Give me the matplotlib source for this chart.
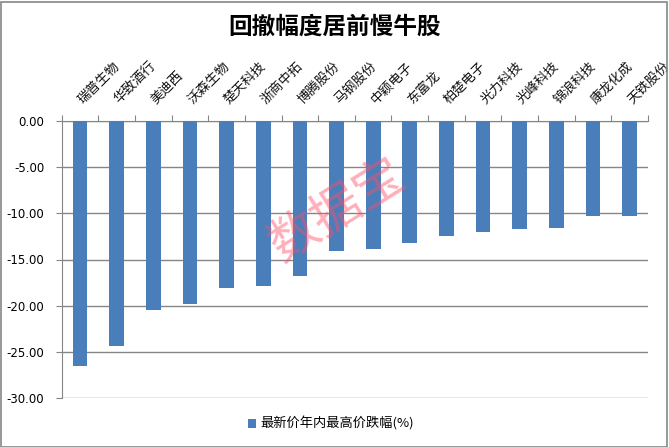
import matplotlib
matplotlib.use("Agg")
import matplotlib.pyplot as plt
from matplotlib.patches import Rectangle

plt.rcParams['font.family'] = ['Noto Sans CJK SC', 'DejaVu Sans']

categories = ["瑞普生物", "华致酒行", "美迪西", "沃森生物", "楚天科技", "浙商中拓",
              "博腾股份", "马钢股份", "中颖电子", "东富龙", "柏楚电子", "光力科技",
              "光峰科技", "锦浪科技", "康龙化成", "天铁股份"]
values = [-26.50, -24.35, -20.44, -19.79, -18.06, -17.84, -16.76, -14.05,
          -13.83, -13.18, -12.42, -11.99, -11.67, -11.56, -10.26, -10.26]
yticks = [0, -5, -10, -15, -20, -25, -30]
series_name = "最新价年内最高价跌幅(%)"
title = "回撤幅度居前慢牛股"
watermark = "数据宝"

W, H = 669, 447
fig = plt.figure(figsize=(W / 100, H / 100), dpi=100)
ax = fig.add_axes([61.7 / W, 1 - 398 / H, (648 - 61.7) / W, (398 - 121) / H])

x = list(range(len(categories)))
bars = ax.bar(x, values, width=0.4, color="#4a7ebb", label=series_name, zorder=3)

ax.set_xlim(-0.5, len(categories) - 0.5)
ax.set_ylim(-30, 0)
ax.set_yticks(yticks)
ax.set_yticklabels([f"{v:.2f}" for v in yticks], fontsize=8.5, family=['DejaVu Sans'])
ax.yaxis.grid(True, color="#868686", linewidth=1, zorder=0)

ax.xaxis.tick_top()
ax.set_xticks([i - 0.5 for i in range(len(categories) + 1)], minor=False)
ax.set_xticklabels([])
ax.tick_params(axis='x', which='major', length=4, color="#868686", direction='out')
ax.set_xticks(x, minor=True)
ax.set_xticklabels(categories, minor=True, rotation=45, rotation_mode='anchor',
                   ha='left', va='center', fontsize=9.5, color='#111111')
ax.tick_params(axis='x', which='minor', length=0, pad=14)
ax.tick_params(axis='y', length=4.5, color="#868686", direction='out', pad=8)

for s in ['right', 'bottom']:
    ax.spines[s].set_visible(False)
ax.spines['left'].set_color("#868686")
ax.spines['top'].set_color("#868686")

fig.text(334.5 / W, 1 - 27 / H, title, ha='center', va='center', fontsize=17, fontweight='bold')

fig.legend(handles=[bars], labels=[series_name], loc='center', bbox_to_anchor=(331 / W, 1 - 424 / H),
           frameon=False, fontsize=9.5, handlelength=0.6, handleheight=0.6, handletextpad=0.3)

fig.text(337 / W, 1 - 211 / H, watermark, ha='center', va='center', fontsize=36, rotation=32,
         color=(1.0, 0.3, 0.4), alpha=0.45, zorder=10)

fig.patches.append(Rectangle((0.5 / W, 0.5 / H), 1 - 3 / W, 1 - 2 / H, transform=fig.transFigure,
                             fill=False, edgecolor="#868686", linewidth=1.2))

fig.savefig("out.png", dpi=100)
